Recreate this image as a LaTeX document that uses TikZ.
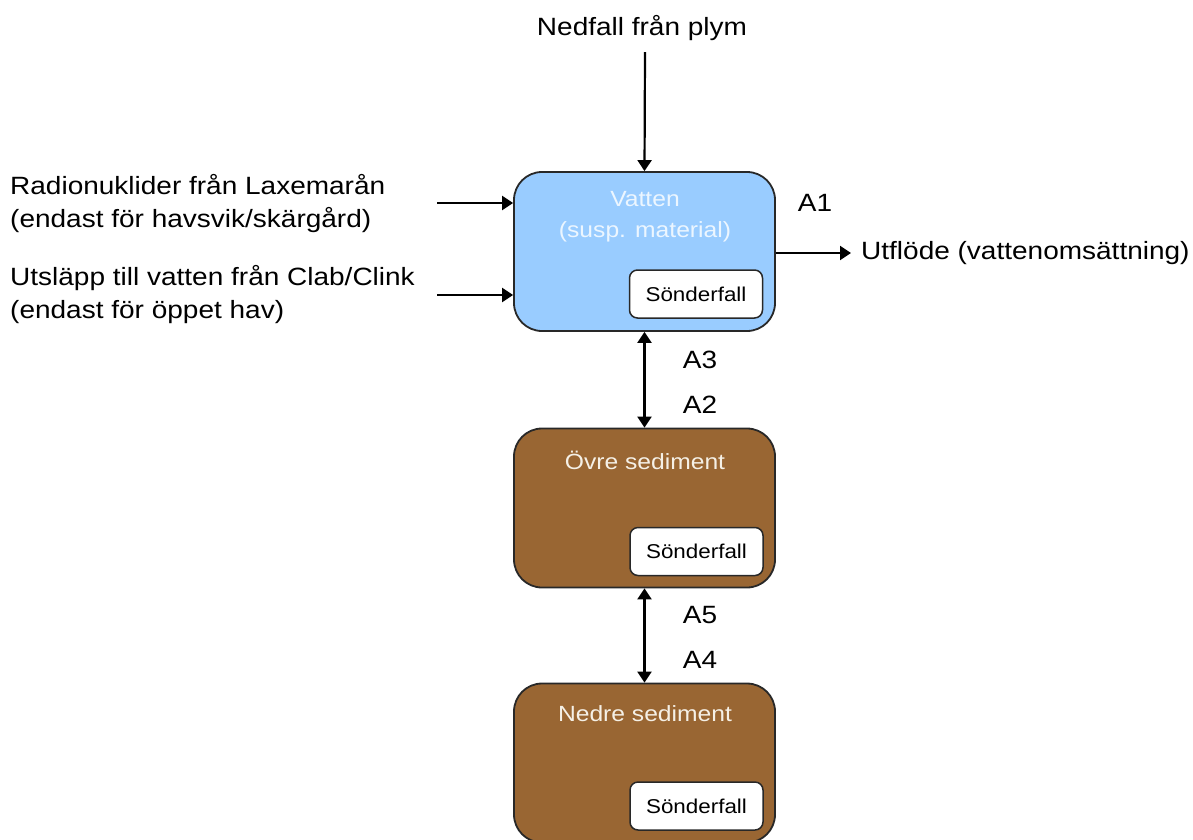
\documentclass[tikz,border=0pt]{standalone}
\usepackage{fontspec}
\setmainfont{Liberation Sans}[FakeStretch=1.12]
\usetikzlibrary{arrows.meta}
\definecolor{water}{RGB}{153,204,255}
\definecolor{sed}{RGB}{153,102,51}
\definecolor{edge}{RGB}{40,40,40}
\definecolor{watertext}{RGB}{236,246,255}
\definecolor{sedtext}{RGB}{245,240,230}
\begin{document}
\begin{tikzpicture}[x=1pt,y=-1pt,
  comp/.style={draw=edge,line width=1.8pt,rounded corners=28pt,
    minimum width=261pt,minimum height=159pt,inner sep=0pt},
  decay/.style={draw=edge,fill=white,line width=1.5pt,rounded corners=8pt,
    minimum width=133pt,minimum height=48pt,inner sep=0pt,
    font=\fontsize{20}{24}\selectfont},
  lbl/.style={font=\fontsize{25}{33}\selectfont,inner sep=0pt},
  title/.style={font=\fontsize{22}{31}\selectfont,align=center,inner sep=0pt},
  tip/.tip={Triangle[length=11pt,width=14pt]},
  flow/.style={line width=2.2pt,-tip},
  both/.style={line width=2.2pt,tip-tip}]
\useasboundingbox (0,0) rectangle (1193,839);

% compartments
\node[comp,fill=water] (vatten) at (644.5,251.5) {};
\node[comp,fill=sed] (ovre) at (644.5,508) {};
\node[comp,fill=sed] (nedre) at (644.5,763) {};

% decay boxes
\node[decay] (d1) at (696,294) {Sönderfall};
\node[decay] (d2) at (696.5,551.5) {Sönderfall};
\node[decay] (d3) at (696.5,806) {Sönderfall};

% compartment titles
\node[title,text=watertext] (tv) at (645,216.5) {Vatten\\(susp. material)};
\node[title,text=sedtext] (to) at (645,460) {Övre sediment};
\node[title,text=sedtext] (tn) at (645,714) {Nedre sediment};

% inputs
\node[lbl] (plym) at (642,28) {Nedfall från plym};
\coordinate (plymend) at (645,52);
\draw[flow] (plymend) -- (vatten.north);

\node[lbl,anchor=west,align=left] (rad) at (10,203.5)
  {Radionuklider från Laxemarån\\(endast för havsvik/skärgård)};
\coordinate (radend) at (437,203);
\draw[flow] (radend) -- (radend -| vatten.west);

\node[lbl,anchor=west,align=left] (utsl) at (10,294.5)
  {Utsläpp till vatten från Clab/Clink\\(endast för öppet hav)};
\coordinate (utslend) at (437,295);
\draw[flow] (utslend) -- (utslend -| vatten.west);

% outflow
\node[lbl,anchor=west] (utf) at (861,253) {Utflöde (vattenomsättning)};
\draw[flow,shorten >=10pt] (vatten.east |- utf.west) -- (utf.west);
\node[lbl] (a1) at (815,203) {A1};

% exchange between compartments
\draw[both] (vatten.south) -- (ovre.north);
\node[lbl] (a3) at (700,360) {A3};
\node[lbl] (a2) at (700,405) {A2};
\draw[both] (ovre.south) -- (nedre.north);
\node[lbl] (a5) at (700,615) {A5};
\node[lbl] (a4) at (700,660) {A4};
\end{tikzpicture}
\end{document}
